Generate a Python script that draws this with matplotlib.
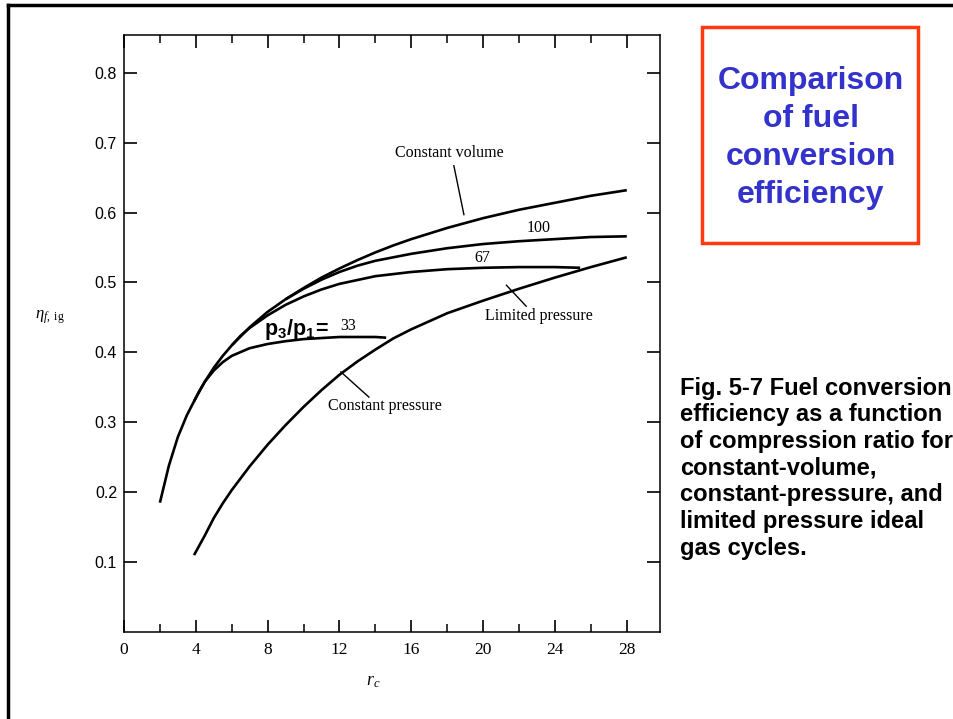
import matplotlib
matplotlib.use("Agg")
import matplotlib.pyplot as plt
from matplotlib.patches import Rectangle
from matplotlib.lines import Line2D
from matplotlib.ticker import MultipleLocator

plt.rcParams["mathtext.fontset"] = "custom"
plt.rcParams["mathtext.rm"] = "Liberation Serif"
plt.rcParams["mathtext.it"] = "Liberation Serif:italic"
plt.rcParams["mathtext.bf"] = "Liberation Sans:bold"

# --- data (r_c, eta_f,ig) ---
cv_rc  = [2, 2.5, 3, 3.5, 4, 4.5, 5, 5.5, 6, 7, 8, 9, 10, 11, 12, 13, 14, 15, 16,
          18, 20, 22, 24, 26, 28]
cv_eta = [0.185, 0.238, 0.279, 0.31, 0.335, 0.358, 0.378, 0.395, 0.41, 0.436,
          0.458, 0.476, 0.492, 0.507, 0.52, 0.532, 0.543, 0.553, 0.562,
          0.578, 0.592, 0.604, 0.614, 0.624, 0.632]

lp100_rc  = [9, 10, 11, 12, 13, 14, 16, 18, 20, 22, 24, 26, 28]
lp100_eta = [0.476, 0.491, 0.504, 0.515, 0.524, 0.531, 0.541, 0.549, 0.555,
             0.559, 0.562, 0.565, 0.566]

lp67_rc  = [6, 6.5, 7, 8, 9, 10, 11, 12, 14, 16, 18, 20, 22, 24, 25.4]
lp67_eta = [0.41, 0.424, 0.435, 0.453, 0.468, 0.48, 0.49, 0.498, 0.509, 0.515,
            0.519, 0.521, 0.522, 0.522, 0.521]

lp33_rc  = [3.9, 4.2, 4.5, 5, 5.5, 6, 7, 8, 9, 10, 12, 14, 14.6]
lp33_eta = [0.33, 0.345, 0.358, 0.374, 0.386, 0.395, 0.406, 0.412, 0.416, 0.419,
            0.422, 0.422, 0.421]

cp_rc  = [3.9, 4.5, 5, 5.5, 6, 7, 8, 9, 10, 11, 12, 13, 14, 15, 16, 18, 20, 22,
          24, 26, 28]
cp_eta = [0.11, 0.138, 0.163, 0.184, 0.203, 0.237, 0.268, 0.296, 0.322, 0.346,
          0.368, 0.387, 0.404, 0.42, 0.433, 0.456, 0.474, 0.491, 0.507, 0.522, 0.536]

x_ticks = [0, 4, 8, 12, 16, 20, 24, 28]
y_ticks = [0.1, 0.2, 0.3, 0.4, 0.5, 0.6, 0.7, 0.8]

title_lines = ["Comparison", "of fuel", "conversion", "efficiency"]
caption_lines = ["Fig. 5-7 Fuel conversion", "efficiency as a function",
                 "of compression ratio for", "constant-volume,",
                 "constant-pressure, and", "limited pressure ideal",
                 "gas cycles."]

W, H = 954, 719
fig = plt.figure(figsize=(W / 100, H / 100), dpi=100)

# slide frame
fig.add_artist(Line2D([8 / W, 8 / W], [0, 1 - 5 / H], color="black", lw=2.5))
fig.add_artist(Line2D([8 / W, 1], [1 - 5 / H, 1 - 5 / H], color="black", lw=2.5))

ax = fig.add_axes([124 / W, 1 - 632 / H, (660 - 124) / W, (632 - 35) / H])
ax.set_xlim(0, 29.85)
ax.set_ylim(0, 0.854)

lw = 1.9
for xs, ys in [(cv_rc, cv_eta), (lp100_rc, lp100_eta), (lp67_rc, lp67_eta),
               (lp33_rc, lp33_eta), (cp_rc, cp_eta)]:
    ax.plot(xs, ys, color="black", lw=lw, solid_capstyle="butt",
            solid_joinstyle="round")

for s in ax.spines.values():
    s.set_linewidth(1.1)

ax.set_xticks(x_ticks)
ax.xaxis.set_minor_locator(MultipleLocator(2))
ax.set_yticks(y_ticks)
ax.set_yticklabels([f"{v:.1f}" for v in y_ticks], family="Liberation Sans", fontsize=11.5)
ax.set_xticklabels([str(v) for v in x_ticks], family="Liberation Serif", fontsize=12.5)
ax.tick_params(axis="x", which="major", direction="in", top=True, length=9, width=1.2, pad=7)
ax.tick_params(axis="x", which="minor", direction="in", top=True, length=6, width=1.1)
ax.tick_params(axis="y", which="major", direction="in", right=True, length=9.5, width=1.2, pad=5)

ax.text(-0.138, 0.528, r"$\eta_{f,\ \mathrm{ig}}$", transform=ax.transAxes,
        fontsize=12, ha="center", va="center")
ax.text(0.465, -0.082, r"$r_c$", transform=ax.transAxes, fontsize=13,
        ha="center", va="center")

serif = dict(family="Liberation Serif", fontsize=11.5, color="black")
ax.text(18.1, 0.685, "Constant volume", ha="center", va="center", **serif)
ax.plot([18.37, 18.93], [0.667, 0.597], color="black", lw=1.0)
ax.text(23.1, 0.578, "100", ha="center", va="center", **serif)
ax.text(19.93, 0.535, "67", ha="center", va="center", **serif)
ax.text(23.1, 0.452, "Limited pressure", ha="center", va="center", **serif)
ax.plot([21.3, 22.4], [0.496, 0.466], color="black", lw=1.0)
ax.text(12.5, 0.438, "33", ha="center", va="center", **serif)
ax.text(14.53, 0.323, "Constant pressure", ha="center", va="center", **serif)
ax.plot([12.08, 13.64], [0.372, 0.336], color="black", lw=1.0)
ax.text(7.8, 0.433, r"$\mathbf{p_3/p_1\!=}$", ha="left", va="center", fontsize=15.5)

# title box
fig.add_artist(Rectangle((702 / W, 1 - 243 / H), 216 / W, 216 / H,
                         fill=False, edgecolor="#ff3a10", lw=2.5))
for i, t in enumerate(title_lines):
    fig.text(811 / W, 1 - (81 + 38 * i) / H, t, ha="center", va="center",
             family="Liberation Sans", weight="bold", fontsize=23, color="#3333cc")

for i, t in enumerate(caption_lines):
    fig.text(680 / W, 1 - (388 + 26.7 * i) / H, t, ha="left", va="center",
             family="Liberation Sans", weight="bold", fontsize=17.1, color="black")

fig.savefig("out.png", dpi=100)
